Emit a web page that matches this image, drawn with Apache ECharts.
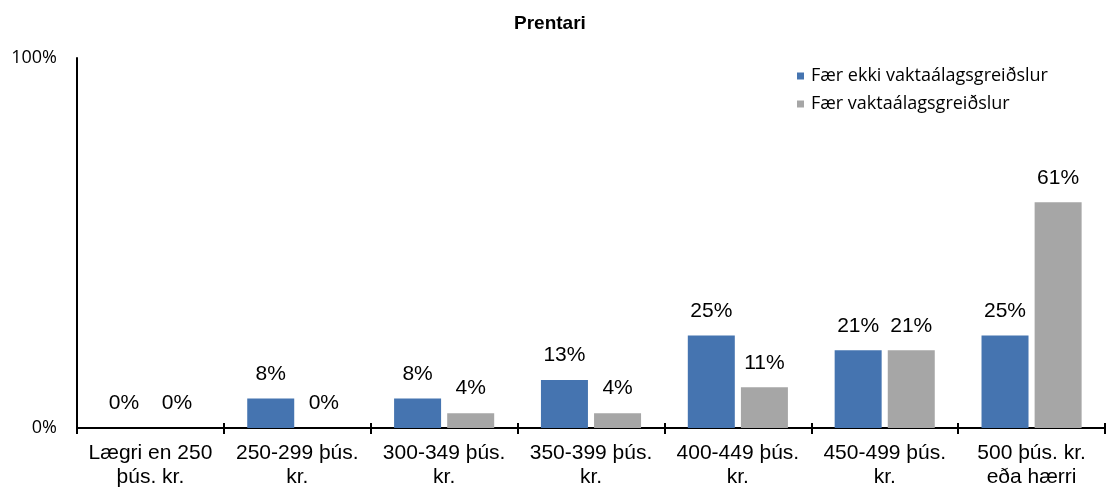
<!DOCTYPE html>
<html>
<head>
<meta charset="utf-8">
<script src="https://cdn.jsdelivr.net/npm/echarts@6/dist/echarts.min.js"></script>
<style>html,body{margin:0;padding:0;background:#fff}#c{width:1113px;height:492px}</style>
</head>
<body>
<div id="c"></div>
<script>
const title = 'Prentari';
const categories = ['Lægri en 250\nþús. kr.', '250-299 þús.\nkr.', '300-349 þús.\nkr.', '350-399 þús.\nkr.', '400-449 þús.\nkr.', '450-499 þús.\nkr.', '500 þús. kr.\neða hærri'];
const seriesNames = ['Fær ekki vaktaálagsgreiðslur', 'Fær vaktaálagsgreiðslur'];
const notPaid = [0, 8, 8, 13, 25, 21, 25];
const paid = [0, 0, 4, 4, 11, 21, 61];
const yTicks = [0, 100];

const chart = echarts.init(document.getElementById('c'));
const labelStyle = {
  show: true, position: 'top', distance: 14,
  fontFamily: 'Liberation Sans', fontSize: 21, color: '#000',
  formatter: p => p.value + '%'
};
chart.setOption({
  animation: false,
  title: {
    text: title, left: 509, top: 9,
    textStyle: { fontFamily: 'Liberation Sans', fontWeight: 'bold', fontSize: 19, color: '#000' }
  },
  legend: {
    orient: 'vertical', left: 792, top: 62, itemWidth: 7, itemHeight: 7, itemGap: 10,
    icon: 'rect',
    textStyle: { fontFamily: 'Open Sans', fontSize: 18, color: '#000', padding: [0, 0, 0, 2] },
    data: seriesNames
  },
  grid: { left: 77, right: 8, top: 58, bottom: 64 },
  xAxis: [{
    type: 'category', data: categories,
    axisLine: { lineStyle: { color: '#000', width: 2 } },
    axisTick: { show: true, length: 6, lineStyle: { color: '#000', width: 2 } },
    axisLabel: { interval: 0, margin: 13, fontFamily: 'Liberation Sans', fontSize: 21, color: '#000', lineHeight: 24 }
  }, {
    type: 'category', data: categories, position: 'bottom',
    axisLine: { show: false },
    axisTick: { show: true, inside: true, length: 5, lineStyle: { color: '#000', width: 2 } },
    axisLabel: { show: false }
  }],
  yAxis: {
    type: 'value', min: yTicks[0], max: yTicks[1], interval: 100,
    splitLine: { show: false },
    axisLine: { show: true, lineStyle: { color: '#000', width: 2 } },
    axisTick: { show: false },
    axisLabel: { margin: 20, fontFamily: 'Open Sans', fontSize: 18, color: '#000', formatter: v => v + '%' }
  },
  series: [{
    name: seriesNames[0], type: 'bar', data: notPaid, barWidth: 47, barGap: '13%',
    itemStyle: { color: '#4574b0' }, label: labelStyle
  }, {
    name: seriesNames[1], type: 'bar', data: paid, barWidth: 47,
    itemStyle: { color: '#a6a6a6' }, label: labelStyle
  }]
});
</script>
</body>
</html>
